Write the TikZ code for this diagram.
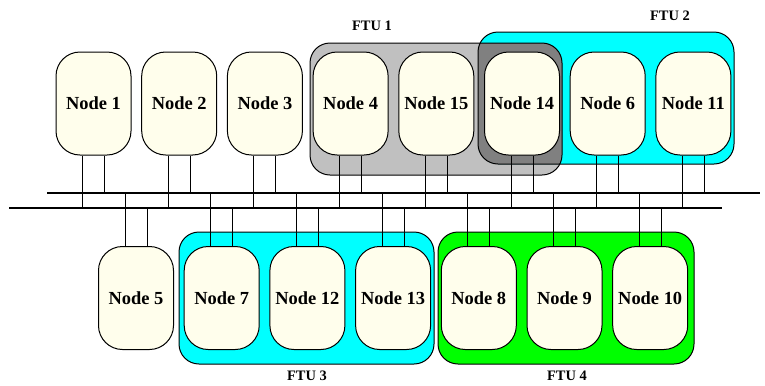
\documentclass[tikz,border=0pt]{standalone}
\usepackage{fontspec}
\setmainfont{Liberation Serif}
\usepackage{tikz}

\definecolor{nodefill}{HTML}{FFFEEC}
\definecolor{ftugray}{HTML}{C0C0C0}
\definecolor{ftudark}{HTML}{808080}
\definecolor{ftucyan}{HTML}{00FFFF}
\definecolor{ftugreen}{HTML}{00FF00}

\tikzset{
  unit/.style={draw,line width=1bp,fill=nodefill,rounded corners=24bp,
    minimum width=75bp,minimum height=103bp,inner sep=0pt,
    font=\fontsize{18.5}{20}\selectfont\bfseries},
  ftu/.style={draw,line width=1bp,rounded corners=20bp},
  ftulabel/.style={font=\fontsize{14.5}{16}\selectfont\bfseries},
  bus/.style={line width=2.2bp},
  link/.style={line width=0.9bp}
}

\begin{document}
\begin{tikzpicture}[x=1bp,y=-1bp]
  \useasboundingbox (0,0) rectangle (765,385);
  \def\d{85.7}
  \def\off{11}
  % buses
  \coordinate (busA-w) at (47,193);
  \coordinate (busA-e) at (760,193);
  \coordinate (busB-w) at (9,208);
  \coordinate (busB-e) at (722,208);
  % fault tolerant units
  \fill[ftugray] [rounded corners=20bp] (310,43) rectangle (562,175);
  \fill[ftucyan] [rounded corners=20bp] (478,32) rectangle (734,164);
  \begin{scope}
    \clip[rounded corners=20bp] (310,43) rectangle (562,175);
    \fill[ftudark] [rounded corners=20bp] (478,32) rectangle (734,164);
  \end{scope}
  \draw[ftu] (310,43) rectangle (562,175);
  \draw[ftu] (478,32) rectangle (734,164);
  \draw[ftu,fill=ftucyan] (179,232) rectangle (434,364);
  \draw[ftu,fill=ftugreen] (438,232) rectangle (694,364);
  \node[ftulabel] (ftu1) at (372,26) {FTU 1};
  \node[ftulabel] (ftu2) at (670,16) {FTU 2};
  \node[ftulabel] (ftu3) at (307,376) {FTU 3};
  \node[ftulabel] (ftu4) at (567,376) {FTU 4};
  % upper row
  \node[unit] (n1) at (93.5,103.5) {Node 1};
  \node[unit] (n2) at ({93.5+\d},103.5) {Node 2};
  \node[unit] (n3) at ({93.5+2*\d},103.5) {Node 3};
  \node[unit] (n4) at ({93.5+3*\d},103.5) {Node 4};
  \node[unit] (n15) at ({93.5+4*\d},103.5) {Node 15};
  \node[unit] (n14) at ({93.5+5*\d},103.5) {Node 14};
  \node[unit] (n6) at ({93.5+6*\d},103.5) {Node 6};
  \node[unit] (n11) at ({93.5+7*\d},103.5) {Node 11};
  % lower row
  \node[unit] (n5) at (136,298) {Node 5};
  \node[unit] (n7) at ({136+\d},298) {Node 7};
  \node[unit] (n12) at ({136+2*\d},298) {Node 12};
  \node[unit] (n13) at ({136+3*\d},298) {Node 13};
  \node[unit] (n8) at ({136+4*\d},298) {Node 8};
  \node[unit] (n9) at ({136+5*\d},298) {Node 9};
  \node[unit] (n10) at ({136+6*\d},298) {Node 10};
  % links to the buses
  \foreach \n in {n1,n2,n3,n4,n15,n14,n6,n11} {
    \draw[link] ([xshift=-\off bp]\n.south) -- ([xshift=-\off bp]\n.south |- busB-w);
    \draw[link] ([xshift=\off bp]\n.south) -- ([xshift=\off bp]\n.south |- busA-w);
  }
  \foreach \n in {n5,n7,n12,n13,n8,n9,n10} {
    \draw[link] ([xshift=-\off bp]\n.north) -- ([xshift=-\off bp]\n.north |- busA-w);
    \draw[link] ([xshift=\off bp]\n.north) -- ([xshift=\off bp]\n.north |- busB-w);
  }
  \draw[bus] (busA-w) -- (busA-e);
  \draw[bus] (busB-w) -- (busB-e);
\end{tikzpicture}
\end{document}
